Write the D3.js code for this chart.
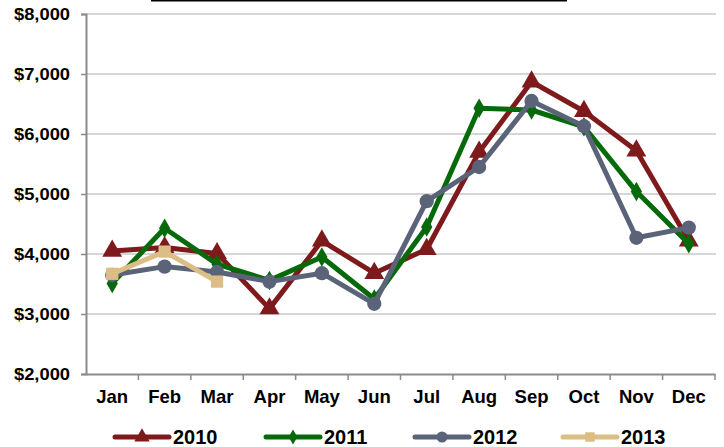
<!DOCTYPE html>
<html>
<head>
<meta charset="utf-8">
<script src="https://cdn.jsdelivr.net/npm/d3@7"></script>
<style>
  body { margin: 0; background: #fff; }
  text { font-family: "Liberation Sans", Arial, sans-serif; font-weight: bold; fill: #000; }
</style>
</head>
<body>
<script>
// data
var months = ['Jan', 'Feb', 'Mar', 'Apr', 'May', 'Jun', 'Jul', 'Aug', 'Sep', 'Oct', 'Nov', 'Dec']
var years = ['2010', '2011', '2012', '2013']
var sales2010 = [4050, 4110, 4010, 3090, 4220, 3680, 4080, 5700, 6870, 6380, 5720, 4220]
var sales2011 = [3510, 4430, 3830, 3560, 3950, 3250, 4450, 6430, 6400, 6120, 5040, 4170]
var sales2012 = [3650, 3790, 3700, 3540, 3680, 3170, 4880, 5450, 6550, 6130, 4270, 4440]
var sales2013 = [3670, 4040, 3540]
var yTicks = [2000, 3000, 4000, 5000, 6000, 7000, 8000]

var seriesValues = [sales2010, sales2011, sales2012, sales2013]
var colors = ['#7f1a1c', '#06690a', '#5a6378', '#dcbd85']
var shapes = [d3.symbolTriangle, d3.symbolDiamond, d3.symbolCircle, d3.symbolSquare]
var sizes = [170, 110, 160, 150]

var width = 724,
    height = 447,
    plot = { left: 86, right: 715, top: 14, bottom: 374 }

var svg = d3.select('body').append('svg')
    .attr('width', width)
    .attr('height', height)

// title is cut off above the picture, only its underline shows
svg.append('line')
    .attr('x1', 151).attr('x2', 567)
    .attr('y1', 0.6).attr('y2', 0.6)
    .attr('stroke', '#000')
    .attr('stroke-width', 1.6)

var xScale = d3.scaleBand()
    .domain(months)
    .range([plot.left, plot.right])

var yScale = d3.scaleLinear()
    .domain([2000, 8000])
    .range([plot.bottom, plot.top])

//gridlines
svg.append('g')
    .selectAll('line')
    .data(yTicks.slice(1))
    .enter().append('line')
    .attr('x1', plot.left)
    .attr('x2', plot.right + 1)
    .attr('y1', d => yScale(d))
    .attr('y2', d => yScale(d))
    .attr('stroke', '#c8c8c8')
    .attr('stroke-width', 1.5)

//y axis
var fmt = d3.format('$,')
var yAxisG = svg.append('g')
    .attr('transform', 'translate(' + plot.left + ',0)')
    .call(d3.axisLeft(yScale).tickValues(yTicks).tickSize(5).tickPadding(11).tickFormat(fmt))
yAxisG.select('.domain').attr('stroke', '#8a8a8a').attr('stroke-width', 2)
yAxisG.selectAll('.tick line').attr('stroke', '#8a8a8a').attr('stroke-width', 1.5)
yAxisG.selectAll('.tick text')
    .attr('font-size', 16)
    .attr('font-family', '"Liberation Sans", Arial, sans-serif')
    .attr('font-weight', 'bold')
    .attr('fill', '#000')
    .attr('textLength', 56)
    .attr('lengthAdjust', 'spacingAndGlyphs')

//x axis, ticks on the band edges
var xAxisG = svg.append('g')
    .attr('transform', 'translate(0,' + plot.bottom + ')')
    .call(d3.axisBottom(xScale).tickSize(0).tickPadding(16))
xAxisG.select('.domain').attr('stroke', '#8a8a8a').attr('stroke-width', 2)
xAxisG.selectAll('.tick text')
    .attr('font-size', 18.5)
    .attr('font-family', '"Liberation Sans", Arial, sans-serif')
    .attr('font-weight', 'bold')
    .attr('fill', '#000')
xAxisG.selectAll('.edge')
    .data(months)
    .enter().append('line')
    .attr('x1', d => xScale(d) + xScale.bandwidth())
    .attr('x2', d => xScale(d) + xScale.bandwidth())
    .attr('y1', 0)
    .attr('y2', 6)
    .attr('stroke', '#8a8a8a')
    .attr('stroke-width', 1.5)

//lines + markers
var line = d3.line()
    .x((d, i) => xScale(months[i]) + xScale.bandwidth() / 2)
    .y(d => yScale(d))

seriesValues.forEach((vals, k) => {
    var g = svg.append('g')
    g.append('path')
        .attr('d', line(vals))
        .attr('fill', 'none')
        .attr('stroke', colors[k])
        .attr('stroke-width', 5)
        .attr('stroke-linejoin', 'round')
    g.selectAll('path.mark')
        .data(vals)
        .enter().append('path')
        .attr('class', 'mark')
        .attr('d', d3.symbol().type(shapes[k]).size(sizes[k]))
        .attr('transform', (d, i) => 'translate(' + (xScale(months[i]) + xScale.bandwidth() / 2) + ',' + yScale(d) + ')')
        .attr('fill', colors[k])
})

//legend
var legX = [113, 264, 413, 561]
var legend = svg.selectAll('.legend')
    .data(years)
    .enter().append('g')
    .attr('transform', (d, i) => 'translate(' + legX[i] + ',437)')

legend.append('line')
    .attr('x1', 2).attr('x2', 56)
    .attr('stroke', (d, i) => colors[i])
    .attr('stroke-width', 5)
    .attr('stroke-linecap', 'round')

legend.append('path')
    .attr('d', (d, i) => d3.symbol().type(shapes[i]).size(sizes[i] * 0.6)())
    .attr('transform', 'translate(29,0)')
    .attr('fill', (d, i) => colors[i])

legend.append('text')
    .attr('x', 60)
    .attr('y', 7)
    .attr('font-size', 20)
    .text(d => d)
</script>
</body>
</html>
